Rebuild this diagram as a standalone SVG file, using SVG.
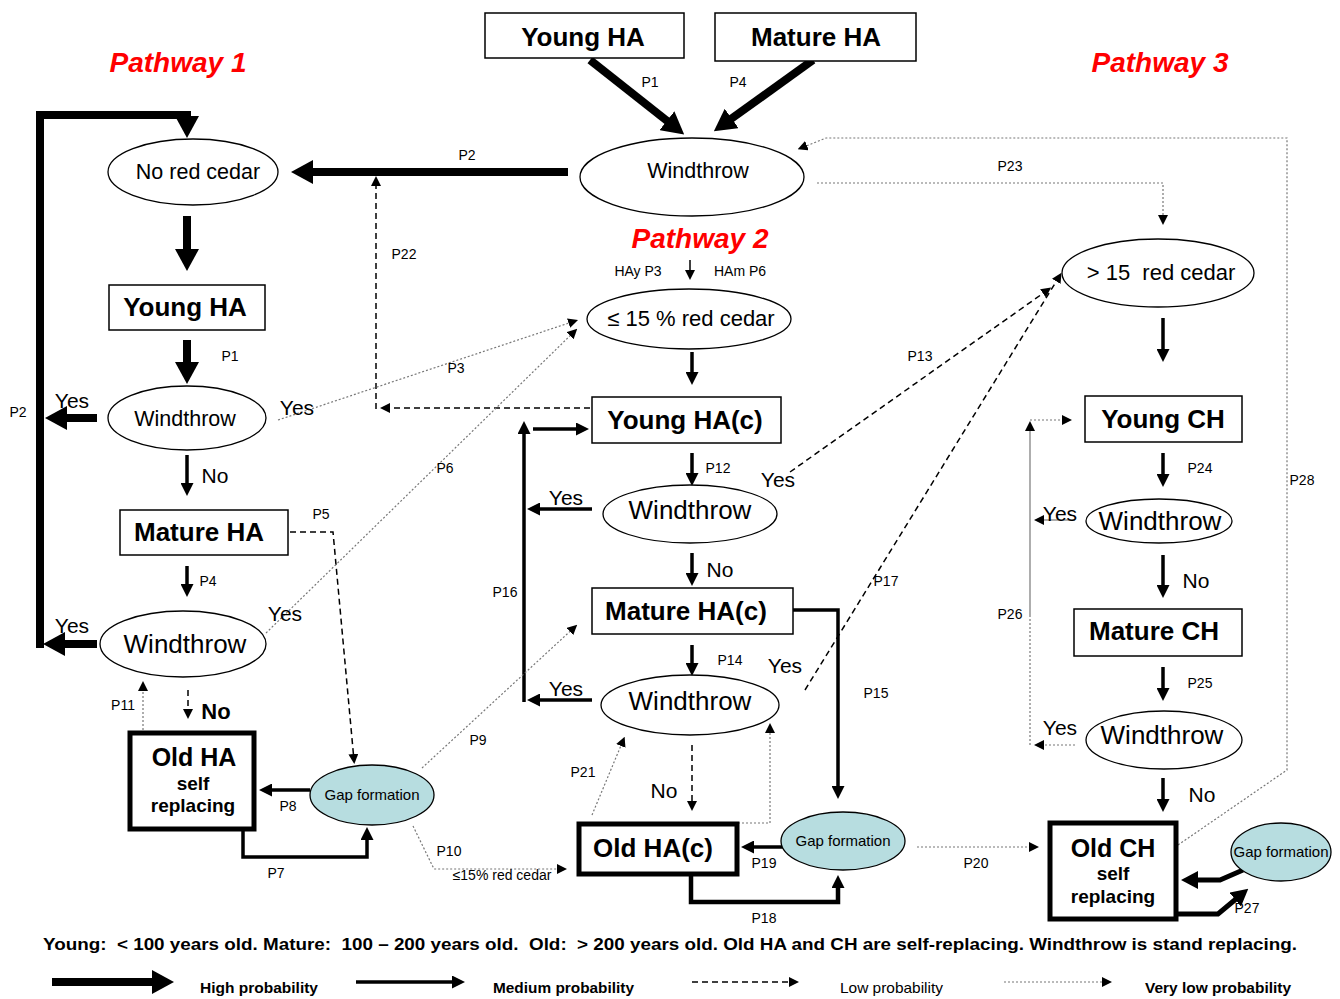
<svg xmlns="http://www.w3.org/2000/svg" width="1340" height="999" viewBox="0 0 1340 999">
<defs>
<style>
.box{fill:#fff;stroke:#000;stroke-width:1.5}
.tbox{fill:#fff;stroke:#000;stroke-width:5}
.ell{fill:#fff;stroke:#000;stroke-width:1.3}
.gap{fill:#b7dde0;stroke:#000;stroke-width:1.3}
text{font-family:"Liberation Sans",Arial,sans-serif;fill:#000}
.bt{font-weight:bold;font-size:26px;text-anchor:middle}
.st{font-weight:bold;font-size:19px;text-anchor:middle}
.wt{font-size:26px;text-anchor:middle}
.ws{font-size:21.5px;text-anchor:middle}
.gt{font-size:15px;text-anchor:middle}
.yn{font-size:21px;text-anchor:middle}
.pl{font-size:14px;text-anchor:middle}
.pw{font-weight:bold;font-style:italic;font-size:28px;fill:#f00;text-anchor:middle}
.hi{stroke:#000;stroke-width:8;fill:none}
.p27{stroke:#000;stroke-width:5;fill:none}
.med{stroke:#000;stroke-width:3.5;fill:none}
.mid{stroke:#000;stroke-width:4.5;fill:none}
.lo{stroke:#000;stroke-width:1.5;stroke-dasharray:6 4;fill:none}
.vlo{stroke:#777;stroke-width:1.2;stroke-dasharray:2 2;fill:none}
.thin{stroke:#777;stroke-width:1.2;fill:none}
</style>
<marker id="mhi" markerUnits="userSpaceOnUse" viewBox="0 0 22 24" markerWidth="22" markerHeight="24" refX="1" refY="12" orient="auto"><path d="M0,0 L22,12 L0,24 Z" fill="#000"/></marker>
<marker id="mp27" markerUnits="userSpaceOnUse" viewBox="0 0 17 18" markerWidth="17" markerHeight="18" refX="1" refY="9" orient="auto"><path d="M0,0 L17,9 L0,18 Z" fill="#000"/></marker>
<marker id="mmed" markerUnits="userSpaceOnUse" viewBox="0 0 13 13" markerWidth="13" markerHeight="13" refX="1" refY="6.5" orient="auto"><path d="M0,0 L13,6.5 L0,13 Z" fill="#000"/></marker>
<marker id="mlo" markerUnits="userSpaceOnUse" viewBox="0 0 10 10" markerWidth="10" markerHeight="10" refX="1" refY="5" orient="auto"><path d="M0,0 L10,5 L0,10 Z" fill="#000"/></marker>
</defs>

<!-- Titles -->
<text class="pw" x="178" y="72">Pathway 1</text>
<text class="pw" x="700" y="248">Pathway 2</text>
<text class="pw" x="1160" y="72">Pathway 3</text>

<!-- Connectors -->
<g id="connectors">
<!-- high probability -->
<path class="hi" d="M590,60 L667.7,121.4" marker-end="url(#mhi)"/>
<path class="hi" d="M813,60 L730.9,119.1" marker-end="url(#mhi)"/>
<path class="hi" d="M568,172 H312" marker-end="url(#mhi)"/>
<path class="hi" d="M40,648 V115 H187 V117" marker-end="url(#mhi)"/>
<path class="hi" d="M97,418 H66" marker-end="url(#mhi)"/>
<path class="hi" d="M97,644 H64" marker-end="url(#mhi)"/>
<path class="hi" d="M187,216 V250" marker-end="url(#mhi)"/>
<path class="hi" d="M187,340 V363" marker-end="url(#mhi)"/>
<path class="p27" d="M1243,870 L1220,880 H1197" marker-end="url(#mp27)"/>
<path class="p27" d="M1177,914 H1218 L1236,899" marker-end="url(#mp27)"/>
<!-- medium probability -->
<path class="med" d="M187,455 V484" marker-end="url(#mmed)"/>
<path class="med" d="M187,566 V585" marker-end="url(#mmed)"/>
<path class="med" d="M692,352 V373" marker-end="url(#mmed)"/>
<path class="med" d="M692,453 V474" marker-end="url(#mmed)"/>
<path class="med" d="M692,553 V574" marker-end="url(#mmed)"/>
<path class="med" d="M692,645 V664" marker-end="url(#mmed)"/>
<path class="med" d="M1163,318 V350" marker-end="url(#mmed)"/>
<path class="med" d="M1163,453 V475" marker-end="url(#mmed)"/>
<path class="med" d="M1163,555 V586" marker-end="url(#mmed)"/>
<path class="med" d="M1163,667 V689" marker-end="url(#mmed)"/>
<path class="med" d="M1163,778 V800" marker-end="url(#mmed)"/>
<path class="med" d="M592,509 H539" marker-end="url(#mmed)"/>
<path class="med" d="M592,700 H539" marker-end="url(#mmed)"/>
<path class="med" d="M524,702 V433" marker-end="url(#mmed)"/>
<path class="med" d="M533,429 H577" marker-end="url(#mmed)"/>
<path class="med" d="M793,610 H838 V787" marker-end="url(#mmed)"/>
<path class="med" d="M310,790 H271" marker-end="url(#mmed)"/>
<path class="med" d="M243,830 V857 H367 V839" marker-end="url(#mmed)"/>
<path class="med" d="M783,847 H753" marker-end="url(#mmed)"/>
<path class="mid" d="M691,874 V902 H838 V887" marker-end="url(#mmed)"/>
<!-- low probability -->
<path class="lo" style="stroke-dasharray:none;stroke-width:1.5" d="M690,260 V271" marker-end="url(#mlo)"/>
<path class="lo" d="M290,532 H333 L353.5,755" marker-end="url(#mlo)"/>
<path class="lo" d="M376,409 V185" marker-end="url(#mlo)"/>
<path class="lo" d="M590,408 H389" marker-end="url(#mlo)"/>
<path class="lo" d="M188,690 V710" marker-end="url(#mlo)"/>
<path class="lo" d="M692,745 V802" marker-end="url(#mlo)"/>
<path class="lo" d="M790,472 L1043.8,292.8" marker-end="url(#mlo)"/>
<path class="lo" d="M805,690 L1056.8,280.5" marker-end="url(#mlo)"/>
<!-- very low probability -->
<path class="vlo" d="M278,420 L569.5,322.8" marker-end="url(#mlo)"/>
<path class="vlo" d="M266,633 L570.8,335" marker-end="url(#mlo)"/>
<path class="vlo" d="M422,768 L570.6,630.8" marker-end="url(#mlo)"/>
<path class="vlo" d="M413,826 L434,869 H558" marker-end="url(#mlo)"/>
<path class="vlo" d="M143,730 V690" marker-end="url(#mlo)"/>
<path class="vlo" d="M592,815 L621.2,745" marker-end="url(#mlo)"/>
<path class="vlo" d="M738,823 H770 V732" marker-end="url(#mlo)"/>
<path class="vlo" d="M917,847 H1030" marker-end="url(#mlo)"/>
<path class="vlo" d="M817,183 H1163 V216" marker-end="url(#mlo)"/>
<path class="vlo" d="M1178,845 L1287,770 V138 H826 L806,146" marker-end="url(#mlo)"/>
<path class="thin" d="M1030,615 V430" marker-end="url(#mlo)"/>
<path class="vlo" d="M1030,745 V615"/>
<path class="vlo" d="M1030,420 H1063" marker-end="url(#mlo)"/>
<path class="thin" d="M1075,520 H1043" marker-end="url(#mlo)"/>
<path class="vlo" d="M1075,745 H1043" marker-end="url(#mlo)"/>
</g>

<!-- Connector labels -->
<g id="labels">
<text class="pl" x="650" y="87">P1</text>
<text class="pl" x="738" y="87">P4</text>
<text class="pl" x="467" y="160">P2</text>
<text class="pl" x="404" y="259">P22</text>
<text class="pl" x="1010" y="171">P23</text>
<text class="pl" x="1302" y="485">P28</text>
<text class="pl" x="230" y="361">P1</text>
<text class="pl" x="18" y="417">P2</text>
<text class="pl" x="456" y="373">P3</text>
<text class="pl" x="445" y="473">P6</text>
<text class="pl" x="321" y="519">P5</text>
<text class="pl" x="208" y="586">P4</text>
<text class="pl" x="123" y="710">P11</text>
<text class="pl" x="288" y="811">P8</text>
<text class="pl" x="276" y="878">P7</text>
<text class="pl" x="478" y="745">P9</text>
<text class="pl" x="449" y="856">P10</text>
<text class="pl" x="502" y="880">≤15% red cedar</text>
<text class="pl" x="718" y="473">P12</text>
<text class="pl" x="920" y="361">P13</text>
<text class="pl" x="505" y="597">P16</text>
<text class="pl" x="730" y="665">P14</text>
<text class="pl" x="886" y="586">P17</text>
<text class="pl" x="876" y="698">P15</text>
<text class="pl" x="583" y="777">P21</text>
<text class="pl" x="764" y="868">P19</text>
<text class="pl" x="764" y="923">P18</text>
<text class="pl" x="976" y="868">P20</text>
<text class="pl" x="1200" y="473">P24</text>
<text class="pl" x="1010" y="619">P26</text>
<text class="pl" x="1200" y="688">P25</text>
<text class="pl" x="1247" y="913">P27</text>
<text class="pl" x="638" y="276">HAy P3</text>
<text class="pl" x="740" y="276">HAm P6</text>
<text class="yn" x="72" y="408">Yes</text>
<text class="yn" x="297" y="415">Yes</text>
<text class="yn" x="215" y="483">No</text>
<text class="yn" x="72" y="633">Yes</text>
<text class="yn" x="285" y="621">Yes</text>
<text class="yn" x="216" y="719" style="font-weight:bold;font-size:22px">No</text>
<text class="yn" x="566" y="505">Yes</text>
<text class="yn" x="778" y="487">Yes</text>
<text class="yn" x="720" y="577">No</text>
<text class="yn" x="785" y="673">Yes</text>
<text class="yn" x="566" y="696">Yes</text>
<text class="yn" x="664" y="798">No</text>
<text class="yn" x="1060" y="521">Yes</text>
<text class="yn" x="1196" y="588">No</text>
<text class="yn" x="1060" y="735">Yes</text>
<text class="yn" x="1202" y="802">No</text>
</g>

<!-- Nodes -->
<g id="n-young-ha-top"><rect class="box" x="485" y="13" width="199" height="45"/><text class="bt" x="583" y="46">Young HA</text></g>
<g id="n-mature-ha-top"><rect class="box" x="715" y="13" width="201" height="48"/><text class="bt" x="816" y="46">Mature HA</text></g>
<g id="n-windthrow-top"><ellipse class="ell" cx="692" cy="177" rx="112" ry="39"/><text class="ws" x="698" y="178">Windthrow</text></g>
<g id="n-no-red-cedar"><ellipse class="ell" cx="193" cy="172" rx="85" ry="33"/><text class="ws" x="198" y="179">No red cedar</text></g>
<g id="n-young-ha"><rect class="box" x="109" y="285" width="156" height="45"/><text class="bt" x="185" y="316">Young HA</text></g>
<g id="n-windthrow-l1"><ellipse class="ell" cx="187" cy="418" rx="79" ry="32"/><text class="ws" x="185" y="426">Windthrow</text></g>
<g id="n-mature-ha"><rect class="box" x="120" y="510" width="168" height="45"/><text class="bt" x="199" y="541">Mature HA</text></g>
<g id="n-windthrow-l2"><ellipse class="ell" cx="183" cy="644" rx="83" ry="33"/><text class="wt" x="185" y="653">Windthrow</text></g>
<g id="n-old-ha"><rect class="tbox" x="130" y="733" width="124" height="96"/><text class="bt" x="194" y="766" style="font-size:25px">Old HA</text><text class="st" x="193" y="790">self</text><text class="st" x="193" y="812">replacing</text></g>
<g id="n-gap-l"><ellipse class="gap" cx="372" cy="795" rx="62" ry="30"/><text class="gt" x="372" y="800">Gap formation</text></g>
<g id="n-le15"><ellipse class="ell" cx="689" cy="319" rx="102" ry="30"/><text class="ws" x="691" y="326" style="font-size:22px">≤ 15 % red cedar</text></g>
<g id="n-young-hac"><rect class="box" x="592" y="397" width="189" height="46"/><text class="bt" x="685" y="429">Young HA(c)</text></g>
<g id="n-windthrow-m1"><ellipse class="ell" cx="690" cy="514" rx="87" ry="29"/><text class="wt" x="690" y="519">Windthrow</text></g>
<g id="n-mature-hac"><rect class="box" x="592" y="588" width="201" height="46"/><text class="bt" x="686" y="620">Mature HA(c)</text></g>
<g id="n-windthrow-m2"><ellipse class="ell" cx="690" cy="705" rx="89" ry="30"/><text class="wt" x="690" y="710">Windthrow</text></g>
<g id="n-old-hac"><rect class="tbox" x="579" y="824" width="158" height="50"/><text class="bt" x="653" y="857">Old HA(c)</text></g>
<g id="n-gap-m"><ellipse class="gap" cx="843" cy="841" rx="62" ry="29"/><text class="gt" x="843" y="846">Gap formation</text></g>
<g id="n-gt15"><ellipse class="ell" cx="1158" cy="273" rx="96" ry="34"/><text class="ws" x="1161" y="280" style="font-size:22px" xml:space="preserve">&gt; 15  red cedar</text></g>
<g id="n-young-ch"><rect class="box" x="1085" y="396" width="157" height="46"/><text class="bt" x="1163" y="428">Young CH</text></g>
<g id="n-windthrow-r1"><ellipse class="ell" cx="1159" cy="521" rx="73" ry="22"/><text class="wt" x="1160" y="530">Windthrow</text></g>
<g id="n-mature-ch"><rect class="box" x="1074" y="609" width="168" height="47"/><text class="bt" x="1154" y="640">Mature CH</text></g>
<g id="n-windthrow-r2"><ellipse class="ell" cx="1164" cy="740" rx="78" ry="29"/><text class="wt" x="1162" y="744">Windthrow</text></g>
<g id="n-old-ch"><rect class="tbox" x="1050" y="823" width="126" height="96"/><text class="bt" x="1113" y="857" style="font-size:25px">Old CH</text><text class="st" x="1113" y="880">self</text><text class="st" x="1113" y="903">replacing</text></g>
<g id="n-gap-r"><ellipse class="gap" cx="1281" cy="852" rx="50" ry="29"/><text class="gt" x="1281" y="857">Gap formation</text></g>

<!-- Legend -->
<g id="legend">
<text x="43" y="950" style="font-weight:bold;font-size:17px" textLength="1254" lengthAdjust="spacingAndGlyphs" xml:space="preserve">Young:  &lt; 100 years old. Mature:  100 – 200 years old.  Old:  &gt; 200 years old. Old HA and CH are self-replacing. Windthrow is stand replacing.</text>
<path class="hi" d="M52,982 H153" marker-end="url(#mhi)"/>
<text x="200" y="993" style="font-weight:bold;font-size:15px" textLength="118" lengthAdjust="spacingAndGlyphs">High probability</text>
<path class="med" d="M356,982 H453" marker-end="url(#mmed)"/>
<text x="493" y="993" style="font-weight:bold;font-size:15px" textLength="141" lengthAdjust="spacingAndGlyphs">Medium probability</text>
<path class="lo" d="M692,982 H790" marker-end="url(#mlo)"/>
<text x="840" y="993" style="font-size:15px" textLength="103" lengthAdjust="spacingAndGlyphs">Low probability</text>
<path class="vlo" d="M1004,982 H1103" marker-end="url(#mlo)"/>
<text x="1145" y="993" style="font-weight:bold;font-size:15px" textLength="146" lengthAdjust="spacingAndGlyphs">Very low probability</text>
</g>
</svg>
